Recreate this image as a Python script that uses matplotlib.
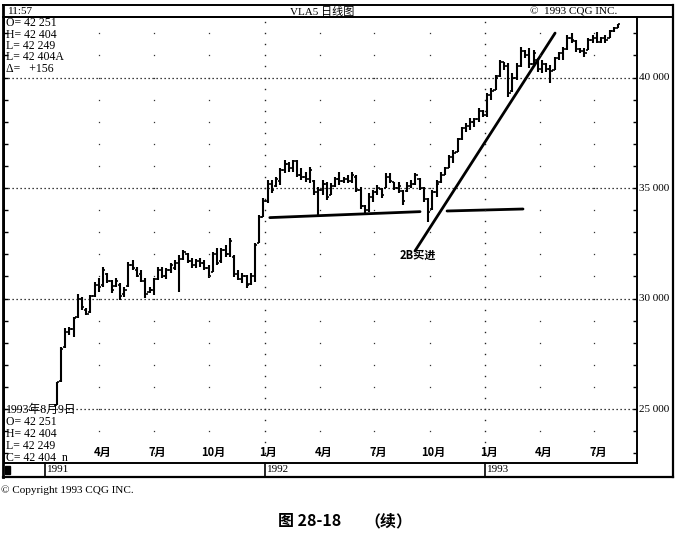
import matplotlib
matplotlib.use("Agg")
import matplotlib.pyplot as plt
from matplotlib.lines import Line2D
import numpy as np
import pandas as pd

# ---------------- data (weekly bars, VLA5) ----------------
start_date = "1991-01-21"
highs = [26240, 27820, 28650, 28720, 29180, 30200, 30080, 29570, 30160, 30760,
         30930, 31440, 31150, 30840, 30930, 30700, 30520, 31650, 31740, 31420,
         31290, 30930, 30520, 30930, 31440, 31440, 31400, 31610, 31740, 31970,
         32200, 32060, 31830, 31800, 31830, 31740, 31520, 32100, 32290, 32290,
         32420, 32740, 31970, 31290, 31150, 31060, 31150, 32510, 33780, 34530,
         35360, 35360, 35510, 35890, 36270, 36190, 36270, 36270, 35890, 35740,
         35960, 35360, 35060, 35360, 35290, 35210, 35510, 35740, 35510, 35590,
         35740, 35590, 35060, 34230, 34760, 34910, 35140, 34990, 35670, 35670,
         35290, 35290, 34910, 35290, 35360, 35670, 35440, 35060, 34530, 34910,
         35360, 35740, 35960, 36490, 36720, 37250, 37770, 37930, 38150, 38150,
         38610, 38530, 39290, 39510, 40110, 40790, 40720, 40640, 40190, 40640,
         41390, 41240, 41320, 41240, 40870, 40790, 40640, 40570, 40940, 41170,
         41390, 41920, 42000, 41700, 41320, 41320, 41770, 41920, 42070, 41850,
         41920, 42150, 42300, 42404]
lows = [25180, 26240, 27750, 28350, 28270, 29100, 29480, 29250, 29340, 30080,
        30310, 30530, 30700, 30250, 30520, 29930, 30070, 30520, 31290, 30970,
        30750, 30020, 30250, 30160, 30840, 30930, 30900, 31150, 31290, 30290,
        31740, 31610, 31380, 31400, 31430, 31290, 30930, 31200, 31520, 31610,
        31880, 31880, 30970, 30840, 30700, 30480, 30610, 30750, 32510, 33700,
        34310, 34760, 35060, 35140, 35670, 35740, 35740, 35510, 35360, 35290,
        35210, 34680, 33700, 34680, 34460, 34680, 35060, 35140, 35210, 35210,
        35210, 34830, 34050, 33860, 33930, 34380, 34680, 34530, 34990, 35210,
        34910, 34760, 34230, 34830, 34990, 35140, 34910, 34380, 33480, 34000,
        34610, 35210, 35590, 35890, 36120, 36640, 37170, 37550, 37630, 37770,
        38000, 38230, 38230, 38990, 39430, 40040, 40340, 39130, 39360, 39880,
        40490, 40870, 40420, 40490, 40260, 40190, 40260, 39740, 40340, 40790,
        40790, 41240, 41550, 41170, 41100, 40940, 41240, 41550, 41550, 41550,
        41550, 41770, 42070, 42249]
opens = [25200, 26250, 27800, 28500, 28600, 29150, 30000, 29500, 29400, 30100,
         30600, 30600, 31100, 30800, 30550, 30600, 30200, 30550, 31500, 31300,
         31100, 30800, 30300, 30400, 30900, 31300, 31000, 31300, 31400, 31600,
         31800, 32000, 31700, 31500, 31700, 31600, 31400, 31200, 32000, 31700,
         32200, 32000, 31900, 31100, 30900, 31000, 30650, 31000, 32520, 33700,
         34400, 35200, 35100, 35300, 35800, 36100, 35900, 36200, 35600, 35500,
         35400, 35300, 34800, 34900, 35200, 34700, 35100, 35400, 35300, 35400,
         35300, 35500, 34900, 34200, 34000, 34600, 34800, 34950, 35000, 35500,
         35250, 35000, 34850, 34850, 35100, 35200, 35400, 35000, 34500, 34050,
         34800, 35250, 35600, 35900, 36400, 36650, 37200, 37700, 37800, 38000,
         38100, 38500, 38300, 39200, 39450, 40050, 40700, 40500, 39400, 40000,
         40500, 41200, 41000, 40600, 40800, 40400, 40600, 40400, 40350, 40900,
         41100, 41300, 41800, 41650, 41300, 41200, 41250, 41700, 41800, 41600,
         41800, 41800, 42100, 42251]
closes = [26200, 27700, 28500, 28600, 29100, 30000, 29600, 29300, 30100, 30600,
          30500, 31300, 30800, 30400, 30800, 30100, 30400, 31500, 31400, 31000,
          30800, 30200, 30400, 30900, 31300, 31000, 31300, 31500, 31600, 31800,
          32100, 31700, 31500, 31700, 31600, 31400, 31000, 32000, 31600, 32200,
          32000, 32600, 31100, 30900, 31000, 30600, 31000, 32400, 33700, 34400,
          35200, 34900, 35400, 35800, 36100, 35900, 36200, 35600, 35500, 35400,
          35800, 34800, 34900, 35200, 34600, 35100, 35400, 35300, 35400, 35300,
          35600, 34900, 34200, 34000, 34600, 34800, 35000, 34700, 35500, 35300,
          35000, 35100, 34400, 35100, 35200, 35600, 35000, 34500, 33900, 34800,
          35200, 35600, 35900, 36400, 36600, 37200, 37700, 37800, 38000, 38100,
          38500, 38300, 39200, 39400, 40000, 40700, 40500, 39300, 40000, 40500,
          41200, 41000, 40600, 41100, 40400, 40600, 40400, 40300, 40900, 41100,
          41300, 41800, 41700, 41300, 41200, 41100, 41700, 41800, 41600, 41800,
          41700, 42100, 42250, 42404]

# trend lines (bar index, price)
support1_x = [50.5, 86.1]
support1_y = [33660, 33930]
support2_x = [92.5, 110.5]
support2_y = [33960, 34050]
trend_x = [84.9, 118.1]
trend_y = [32150, 42010]

price_labels = ["25 000", "30 000", "35 000", "40 000"]
price_levels = [25000, 30000, 35000, 40000]
month_labels = ["4月", "7月", "10月", "1月", "4月", "7月", "10月", "1月", "4月", "7月"]
month_dates = ["1991-04-01", "1991-07-01", "1991-10-01", "1992-01-01", "1992-04-01",
               "1992-07-01", "1992-10-01", "1993-01-01", "1993-04-01", "1993-07-01"]
year_labels = ["1991", "1992", "1993"]
year_dates = ["1991-01-01", "1992-01-01", "1993-01-01"]

info_top = ["O= 42 251", "H= 42 404", "L= 42 249", "L= 42 404A", "Δ=   +156"]
info_bottom = ["1993年8月9日", "O= 42 251", "H= 42 404", "L= 42 249", "C= 42 404  n"]

# ---------------- figure ----------------
W, H = 679, 535
fig = plt.figure(figsize=(W / 100, H / 100), dpi=100)
fig.patch.set_facecolor("white")

SERIF = ["Liberation Serif", "Noto Sans CJK SC", "DejaVu Sans"]
CJK = ["Noto Sans CJK SC", "DejaVu Sans"]


def fx(x):
    return x / W


def fy(y):
    return 1 - y / H


PL, PR, PT, PB = 4, 637, 17, 463
ax = fig.add_axes([fx(PL), fy(PB), fx(PR) - fx(PL), fy(PT) - fy(PB)])

start = pd.Timestamp(start_date)


def idx_of(d):
    return (pd.Timestamp(d) - start).days / 7.0


n = len(highs)
xi = np.arange(n)
ax.vlines(xi, lows, highs, color="black", lw=1.5)
ax.hlines(opens, xi - 0.55, xi, color="black", lw=1.2)
ax.hlines(closes, xi, xi + 0.55, color="black", lw=1.2)

ax.plot(support1_x, support1_y, color="black", lw=2.0, solid_capstyle="round")
ax.plot(support2_x, support2_y, color="black", lw=2.0, solid_capstyle="round")
ax.plot(trend_x, trend_y, color="black", lw=2.0, solid_capstyle="round")

xl0 = (PL - 56.7) / 4.22
xl1 = (PR - 56.7) / 4.22
y_top = 25000 + (409 - PT) * 45.25
y_bot = 25000 + (409 - PB) * 45.25
ax.set_xlim(xl0, xl1)
ax.set_ylim(y_bot, y_top)

# dotted horizontal grid at 5000s
for lv in price_levels:
    ax.plot([xl0, xl1], [lv, lv], color="black", lw=0.9, ls=(0, (1, 2.2)))

# dot grid on quarter lines and year lines
qx = [idx_of(d) for d in month_dates]
yx = [idx_of(d) for d in year_dates]
lev1000 = np.arange(23000, 43000, 1000)
lev500 = np.arange(23000, 42800, 500)
for q in qx:
    if any(abs(q - y) < 0.5 for y in yx):
        continue
    ax.plot([q] * len(lev1000), lev1000, ls="none", marker="s", ms=0.9,
            mew=0, color="#333333")
for y in yx[1:]:
    ax.plot([y] * len(lev500), lev500, ls="none", marker="s", ms=1.0,
            mew=0, color="#222222")

# ticks
ax.set_xticks([])
ax.set_yticks(np.arange(23000, 43000, 1000))
ax.tick_params(axis="y", which="both", direction="in", length=3, width=1,
               left=True, right=True, labelleft=False, labelright=False)
for s in ax.spines.values():
    s.set_linewidth(1.4)

# month labels inside bottom
for lab, d in zip(month_labels, month_dates):
    ax.text(idx_of(d) + 0.9, y_bot + 180, lab, ha="center", va="bottom",
            fontsize=8, family=CJK, fontweight="bold")

ax.text(85.6, 31970, "2B买进", ha="center", va="center", fontsize=8,
        family=CJK, fontweight="bold")

# right price labels
for lab, lv in zip(price_labels, price_levels):
    yp = 409 - (lv - 25000) / 45.25
    fig.text(fx(639), fy(yp), lab, ha="left", va="center", fontsize=8, family=SERIF)

# info texts
for k, t in enumerate(info_top):
    fig.text(fx(6), fy(23 + k * 11.5), t, ha="left", va="center", fontsize=8.5, family=SERIF)
for k, t in enumerate(info_bottom):
    fig.text(fx(6), fy(410 + k * 12), t, ha="left", va="center", fontsize=8.5, family=SERIF)

# header
fig.text(fx(8), fy(11.5), "11:57", ha="left", va="center", fontsize=8, family=SERIF)
fig.text(fx(322), fy(11.5), "VLA5 日线图", ha="center", va="center", fontsize=8, family=SERIF)
fig.text(fx(530), fy(11.5), "©  1993 CQG INC.", ha="left", va="center", fontsize=8, family=SERIF)

# frame lines (figure pixels)
def fline(x0, y0, x1, y1, lw=1.4):
    fig.add_artist(Line2D([fx(x0), fx(x1)], [fy(y0), fy(y1)], color="black", lw=lw))

fline(3, 5, 673, 5)
fline(3, 5, 3, 477, lw=2)
fline(673, 5, 673, 477, lw=1.6)
fline(3, 17, 673, 17)
fline(3, 477, 673, 477, lw=1.6)
for d in year_dates:
    xp = 56.7 + idx_of(d) * 4.22
    fline(xp, 463, xp, 477, lw=1.2)
for lab, d in zip(year_labels, year_dates):
    xp = 56.7 + idx_of(d) * 4.22
    fig.text(fx(xp + 2), fy(470), lab, ha="left", va="center", fontsize=8, family=SERIF)
fig.add_artist(plt.Rectangle((fx(5), fy(474)), fx(5), fy(466) - fy(474), color="black"))

fig.text(fx(1), fy(490), "© Copyright 1993 CQG INC.", ha="left", va="center",
         fontsize=8, family=SERIF)
fig.text(fx(310), fy(521), "图 28-18", ha="center", va="center", fontsize=11.5,
         family=CJK, fontweight="bold")
fig.text(fx(388), fy(521), "（续）", ha="center", va="center", fontsize=11.5,
         family=CJK, fontweight="bold")

fig.savefig("out.png", dpi=100, facecolor="white")
